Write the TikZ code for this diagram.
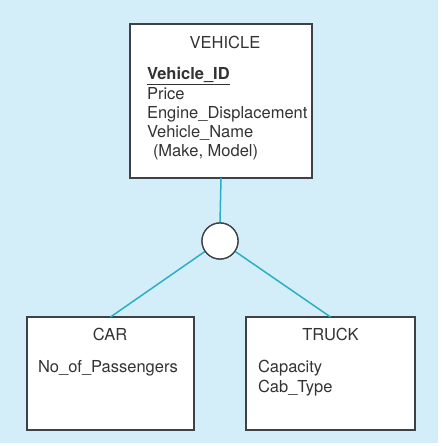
\documentclass[tikz,border=0pt]{standalone}
\usepackage{fontspec}
\setmainfont{TeX Gyre Heros}
\begin{document}
\begin{tikzpicture}[x=1pt,y=-1pt,
  ebox/.style={draw=boxgray,line width=1.3pt,fill=white,rectangle,inner sep=0pt,outer sep=0pt},
  txt/.style={text=txtgray,font=\fontsize{16.5}{19}\selectfont,inner sep=0pt,outer sep=0pt},
  link/.style={draw=linkteal,line width=1.5pt},
  isa/.style={draw=boxgray,line width=1.3pt,fill=white,circle,minimum size=36pt,inner sep=0pt,outer sep=0pt}]
\definecolor{bgblue}{HTML}{D3EEF9}
\definecolor{boxgray}{HTML}{3C4245}
\definecolor{txtgray}{HTML}{333333}
\definecolor{linkteal}{HTML}{2AAFC4}
\useasboundingbox (0,0) rectangle (441,446);
\fill[white] (0,0) rectangle (441,446);
\fill[bgblue] (0,0) rectangle (438,443);
% boxes
\node[ebox,minimum width=182pt,minimum height=154pt] (veh) at (221,101) {};
\node[isa] (circ) at (220,241) {};
\node[ebox,minimum width=167pt,minimum height=113pt] (car) at (110.5,373.5) {};
\node[ebox,minimum width=169pt,minimum height=113pt] (truck) at (330.5,373.5) {};
% connectors
\draw[link] (veh.south) -- (circ.north);
\draw[link] (circ) -- (car.north);
\draw[link] (circ) -- (truck.north);
\node[isa] (circ2) at (circ) {};
% texts
\node[txt,anchor=base] (vt) at (225,49) {VEHICLE};
\node[txt,anchor=base west] (v1) at (147,80) {\bfseries\underline{Vehicle\_ID}};
\node[txt,anchor=base west] (v2) at (147,100) {Price};
\node[txt,anchor=base west] (v3) at (147,119) {Engine\_Displacement};
\node[txt,anchor=base west] (v4) at (147,138) {Vehicle\_Name};
\node[txt,anchor=base west] (v5) at (153,157) {(Make, Model)};
\node[txt,anchor=base] (ct) at (110,340) {CAR};
\node[txt,anchor=base west] (c1) at (38,372) {No\_of\_Passengers};
\node[txt,anchor=base] (tt) at (330.5,340) {TRUCK};
\node[txt,anchor=base west] (t1) at (258,372) {Capacity};
\node[txt,anchor=base west] (t2) at (258,392) {Cab\_Type};
\end{tikzpicture}
\end{document}
